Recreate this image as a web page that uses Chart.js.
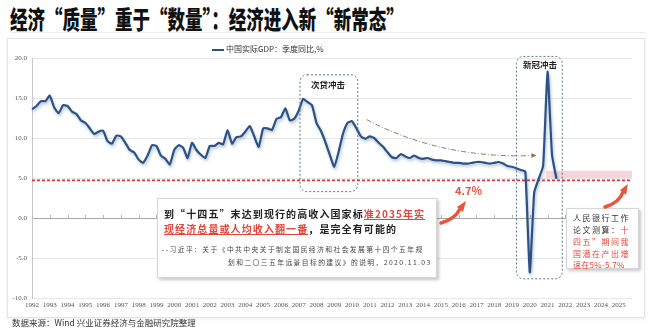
<!DOCTYPE html>
<html><head><meta charset="utf-8">
<script src="https://cdn.jsdelivr.net/npm/chart.js@4.4.1/dist/chart.umd.min.js"></script>
<style>
html,body{margin:0;padding:0;background:#fff;width:650px;height:334px;overflow:hidden;font-family:"Noto Sans CJK SC","Noto Sans",sans-serif;}
#wrap{position:relative;width:650px;height:334px;}
#c{position:absolute;left:0;top:0;}
.abs{position:absolute;white-space:nowrap;}
#frame{position:absolute;left:7px;top:38px;width:636px;height:278px;border:1px solid #e4e4e4;box-shadow:0 1px 3px rgba(0,0,0,0.08);background:#fff;}
#title{left:10px;top:2px;font-size:25px;font-weight:900;color:#111;transform:scaleX(0.70);transform-origin:left top;line-height:32px;letter-spacing:0;}
#tline{position:absolute;left:10px;top:32px;width:636px;height:1px;background:#ececec;}
#legend{left:212px;top:43px;font-size:8px;color:#333;line-height:12px;}
#legend i{display:inline-block;width:12px;height:2px;background:#2b5283;vertical-align:middle;margin-right:2px;}
#footer{left:12px;top:315px;font-size:8.5px;color:#333;line-height:14px;}
.lbl{font-size:8.5px;font-weight:700;color:#222;line-height:12px;}
#pct{left:455px;top:183px;font-size:11px;font-weight:700;color:#e2553f;line-height:14px;}
#quote{position:absolute;left:157px;top:198px;width:278px;height:78px;background:#fff;border:1px solid #d6d6d6;box-shadow:2px 2px 3px rgba(0,0,0,0.22);}
.q1{position:absolute;left:6px;font-size:10px;font-weight:700;color:#222;letter-spacing:1.1px;line-height:13px;white-space:nowrap;}
.red{color:#e0463d;text-decoration:underline;}
.q2{position:absolute;font-size:6.8px;color:#444;letter-spacing:1.4px;line-height:10px;white-space:nowrap;}
#rbox{position:absolute;left:566px;top:208px;width:71px;height:59px;background:#fff;border:1px solid #d6d6d6;box-shadow:2px 2px 3px rgba(0,0,0,0.22);}
#rbox div{position:absolute;left:6px;font-size:8px;letter-spacing:1.5px;line-height:11px;color:#333;white-space:nowrap;}
#rbox .r{color:#e0463d;}
svg{position:absolute;left:0;top:0;}
</style></head>
<body><div id="wrap">
<div id="frame"></div>
<div id="tline"></div>
<div class="abs" id="title">经济“质量”重于“数量”：经济进入新“新常态”</div>
<canvas id="c" width="650" height="334"></canvas>
<div class="abs" id="legend"><i></i>中国实际GDP：季度同比,%</div>
<div class="abs lbl" style="left:311px;top:78px;">次贷冲击</div>
<div class="abs lbl" style="left:523px;top:58px;">新冠冲击</div>
<div class="abs" id="pct">4.7%</div>
<div id="quote">
  <div class="q1" style="top:8px;">到“十四五”末达到现行的高收入国家标<span class="red">准2035年实</span></div>
  <div class="q1" style="top:23px;"><span class="red">现经济总量或人均收入翻一番</span>，是完全有可能的</div>
  <div class="q2" style="left:4px;top:45px;">--习近平：关于《中共中央关于制定国民经济和社会发展第十四个五年规</div>
  <div class="q2" style="left:70px;top:58px;">划和二〇三五年远景目标的建议》的说明，2020.11.03</div>
</div>
<div id="rbox">
  <div style="top:3px;">人民银行工作</div>
  <div style="top:15px;">论文测算：<span class="r">十</span></div>
  <div class="r" style="top:27px;">四五”期间我</div>
  <div class="r" style="top:39px;">国潜在产出增</div>
  <div class="r" style="top:50px;letter-spacing:0.3px;">速在5%-5.7%</div>
</div>
<svg width="650" height="334">
  <path d="M441,223 Q455,219 460,209" stroke="#e8553a" stroke-width="3.5" fill="none" stroke-linecap="round"/>
  <polygon points="457,207 466,201 463,212" fill="#e8553a"/>
  <path d="M605,207 Q619,203 623,192" stroke="#e8553a" stroke-width="3.5" fill="none" stroke-linecap="round"/>
  <polygon points="620,190 628,184 626,195" fill="#e8553a"/>
</svg>
<div class="abs" id="footer">数据来源：Wind 兴业证券经济与金融研究院整理</div>
</div>
<script>
// ---- data ----
const years = [1992,1993,1994,1995,1996,1997,1998,1999,2000,2001,2002,2003,2004,2005,2006,2007,2008,2009,2010,2011,2012,2013,2014,2015,2016,2017,2018,2019,2020,2021,2022,2023,2024,2025];
const quarterNames = ['Q1','Q2','Q3','Q4'];
const seriesName = '中国实际GDP：季度同比,%';
const gdpYoY = [
  13.6,14.0,14.6,14.6,  15.3,13.8,13.1,14.1,  14.0,13.3,13.0,12.2,  11.9,11.2,10.5,10.8,
  10.9,9.6,9.3,10.3,    10.2,9.4,8.5,8.2,     7.3,6.9,7.8,9.1,      9.0,7.8,7.4,6.7,
  8.5,9.1,8.8,7.5,      9.4,8.5,7.9,7.5,      9.0,9.0,9.4,9.2,      11.0,9.3,10.1,10.2,
  10.8,11.5,10.2,8.9,   11.2,11.2,11.0,12.4,  12.6,13.7,12.2,12.4,  13.4,14.9,14.5,14.1,
  11.9,10.9,9.5,7.9,    6.4,8.3,10.6,11.9,    12.1,11.2,10.2,9.9,   10.2,10.0,9.4,8.9,
  8.2,7.6,7.5,8.0,      7.7,7.5,7.8,7.5,      7.4,7.5,7.3,7.2,      7.2,7.1,7.0,6.9,
  6.9,6.8,6.8,6.9,      7.0,7.0,6.9,6.8,      6.9,7.0,6.8,6.5,      6.4,6.2,6.0,5.8,
  -6.8,3.2,4.9,6.5,     18.3,7.9,4.9
];
const potentialLow = 4.7;            // 红色虚线
const potentialBand = [5.0, 5.9];    // 潜在增速区间
const yTicks = [-10, -5, 0, 5, 10, 15, 20];

// annotation anchors in data coordinates (quarter index, value)
const crisisBox = {x0: 60.3, x1: 73.3, y0: 3.3, y1: 17.9};
const covidBox = {x0: 109.0, x1: 119.3, y0: -7.6, y1: 20.2};
const bandStartIdx = 115.6;
const trendCurve = {p0:[75.3,12.3], c:[92.0,7.4], p1:[112.6,7.8]};

const labels = years.flatMap(y => quarterNames.map(q => y + q));

const annot = {
  id: 'annot',
  beforeDatasetsDraw(chart) {
    const {ctx, chartArea: a, scales: {x, y}} = chart;
    ctx.save();
    const bx = x.getPixelForValue(bandStartIdx);
    const yh = y.getPixelForValue(potentialBand[1]), yl = y.getPixelForValue(potentialBand[0]);
    ctx.fillStyle = 'rgba(238,160,170,0.45)';
    ctx.fillRect(bx, yh, a.right - bx, yl - yh);
    const y0 = y.getPixelForValue(0);
    ctx.strokeStyle = '#b5b5b5'; ctx.lineWidth = 1;
    years.forEach((yr, k) => {
      const px = Math.round(x.getPixelForValue(k * 4)) + 0.5;
      ctx.beginPath(); ctx.moveTo(px, y0 - 3); ctx.lineTo(px, y0); ctx.stroke();
    });
    const yr = y.getPixelForValue(potentialLow);
    ctx.strokeStyle = '#d9363e'; ctx.lineWidth = 1.6; ctx.setLineDash([3, 2]);
    ctx.beginPath(); ctx.moveTo(a.left, yr); ctx.lineTo(a.right, yr); ctx.stroke();
    ctx.restore();
  },
  beforeDatasetDraw(chart) {
    const ctx = chart.ctx;
    ctx.save();
    ctx.shadowColor = 'rgba(70,110,160,0.45)';
    ctx.shadowBlur = 3; ctx.shadowOffsetX = 1; ctx.shadowOffsetY = 2;
  },
  afterDatasetDraw(chart) { chart.ctx.restore(); },
  afterDatasetsDraw(chart) {
    const {ctx, scales: {x, y}} = chart;
    ctx.save();
    const box = (b) => {
      const l = x.getPixelForValue(b.x0), r = x.getPixelForValue(b.x1);
      const t = y.getPixelForValue(b.y1), bt = y.getPixelForValue(b.y0);
      ctx.strokeStyle = '#5d7486'; ctx.lineWidth = 1; ctx.setLineDash([2, 2]);
      ctx.beginPath(); ctx.roundRect(l, t, r - l, bt - t, 7); ctx.stroke();
    };
    box(crisisBox); box(covidBox);
    const P = (p) => [x.getPixelForValue(p[0]), y.getPixelForValue(p[1])];
    const [ax, ay] = P(trendCurve.p0), [cx, cy] = P(trendCurve.c), [ex, ey] = P(trendCurve.p1);
    ctx.strokeStyle = '#8c7b5c'; ctx.lineWidth = 1; ctx.setLineDash([5, 2, 1, 2]);
    ctx.beginPath(); ctx.moveTo(ax, ay); ctx.quadraticCurveTo(cx, cy, ex, ey); ctx.stroke();
    ctx.setLineDash([]);
    ctx.fillStyle = '#8c7b5c';
    ctx.beginPath(); ctx.moveTo(ex + 4, ey); ctx.lineTo(ex - 1, ey - 2.5); ctx.lineTo(ex - 1, ey + 2.5); ctx.closePath(); ctx.fill();
    ctx.restore();
  }
};

new Chart(document.getElementById('c'), {
  type: 'line',
  data: {
    labels: labels,
    datasets: [{
      label: seriesName,
      data: gdpYoY,
      borderColor: '#2b5283',
      borderWidth: 2.2,
      pointRadius: 0,
      tension: 0.15,
      fill: false
    }]
  },
  options: {
    responsive: false,
    animation: false,
    devicePixelRatio: 1,
    layout: {padding: {left: 0, right: 18, top: 58, bottom: 0}},
    plugins: {legend: {display: false}, tooltip: {enabled: false}},
    scales: {
      x: {
        type: 'category',
        offset: false,
        grid: {display: false, drawTicks: false},
        border: {display: false},
        afterFit(s) { s.height = 36; },
        ticks: {
          autoSkip: false, maxRotation: 0, minRotation: 0, padding: 3,
          color: '#555', font: {size: 7, family: 'Liberation Serif'},
          callback(v, i) { return i % 4 === 0 ? String(years[i / 4]) : ''; }
        }
      },
      y: {
        min: -10, max: 20,
        afterBuildTicks(s) { s.ticks = yTicks.map(v => ({value: v})); },
        afterFit(s) { s.width = 32; },
        grid: {
          drawTicks: false,
          color: (c) => c.tick && c.tick.value === 0 ? '#a8a8a8' : '#e8e8e8',
          lineWidth: 1
        },
        border: {display: true, color: '#c8c8c8'},
        ticks: {
          padding: 5, color: '#555', font: {size: 7, family: 'Liberation Serif'},
          callback(v) { return Number(v).toFixed(1); }
        }
      }
    }
  },
  plugins: [annot]
});
</script>
</body></html>
